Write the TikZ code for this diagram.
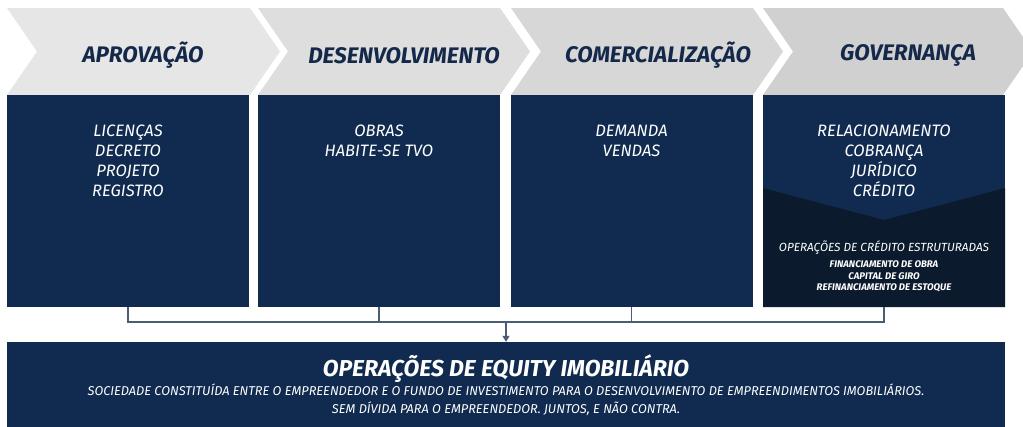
\documentclass[tikz,border=0pt]{standalone}
\usepackage{fontspec}
\setmainfont{Fira Sans}
\usepackage{tikz}
\usetikzlibrary{positioning,arrows.meta,calc}
\definecolor{NavyBox}{HTML}{102B4F}
\definecolor{NavyDark}{HTML}{0B1B2D}
\definecolor{HeadText}{HTML}{14294A}
\definecolor{LinkGray}{HTML}{4B5D75}
\definecolor{ChevA}{HTML}{E6E6E6}
\definecolor{ChevB}{HTML}{DEDEDE}
\definecolor{ChevC}{HTML}{D7D7D7}
\definecolor{ChevD}{HTML}{D0D0D0}

\tikzset{
  stagebox/.style={fill=NavyBox, minimum width=242pt, minimum height=212pt, inner sep=0pt},
  headtxt/.style={text=HeadText, font=\fontsize{22.5}{22.5}\selectfont\bfseries\itshape},
  listtxt/.style={text=white, align=center, anchor=north, inner sep=0pt,
                  font=\fontsize{16.5}{20}\selectfont\itshape},
  link/.style={draw=LinkGray, line width=1.2pt}
}
% chevron: left x, right x, fill
\newcommand{\chevshape}[3]{%
  \fill[#3] (#1,8) -- (#2,8) -- (#2+30,51.5) -- (#2,95) -- (#1,95) -- (#1+30,51.5) -- cycle;}

\begin{document}
\begin{tikzpicture}[x=1pt,y=-1pt]
  \useasboundingbox[fill=white] (0,0) rectangle (1023,426);

  % header arrows
  \chevshape{7}{250}{ChevA}
  \chevshape{258}{500}{ChevB}
  \chevshape{511}{753}{ChevC}
  \chevshape{763}{1003}{ChevD}
  \node[headtxt] (h1) at (143,55.5) {APROVAÇÃO};
  \node[headtxt] (h2) at (404,55.5) {DESENVOLVIMENTO};
  \node[headtxt] (h3) at (658,55.5) {COMERCIALIZAÇÃO};
  \node[headtxt] (h4) at (908,55.5) {GOVERNANÇA};

  % stage boxes
  \node[stagebox] (aprov) at (128,201) {};
  \node[stagebox] (desenv) at (379,201) {};
  \node[stagebox] (comerc) at (631.5,201) {};
  \node[stagebox] (govern) at (884,201) {};
  \fill[NavyDark] (763,188) -- (884,220) -- (1005,188) -- (1005,307) -- (763,307) -- cycle;

  \node[listtxt] (l1) at (128,124.5) {LICENÇAS\\DECRETO\\PROJETO\\REGISTRO};
  \node[listtxt] (l2) at (379,124.5) {OBRAS\\HABITE-SE TVO};
  \node[listtxt] (l3) at (631.5,124.5) {DEMANDA\\VENDAS};
  \node[listtxt] (l4) at (884,124.5) {RELACIONAMENTO\\COBRANÇA\\JURÍDICO\\CRÉDITO};
  \node[listtxt, font=\fontsize{11.8}{12}\selectfont\itshape] (c1) at (884,241)
       {OPERAÇÕES DE CRÉDITO ESTRUTURADAS};
  \node[listtxt, font=\fontsize{9.6}{11.5}\selectfont\bfseries\itshape] (c2) at (884,260.5)
       {FINANCIAMENTO DE OBRA\\CAPITAL DE GIRO\\REFINANCIAMENTO DE ESTOQUE};

  % equity box
  \node[fill=NavyBox, minimum width=998pt, minimum height=86pt, inner sep=0pt] (equity) at (506,385) {};
  \node[text=white, font=\fontsize{23}{23}\selectfont\bfseries\itshape] (eqt) at (506,368.5)
       {OPERAÇÕES DE EQUITY IMOBILIÁRIO};
  \node[listtxt, font=\fontsize{12.8}{18}\selectfont\itshape] (eqs) at (506,383.5)
       {SOCIEDADE CONSTITUÍDA ENTRE O EMPREENDEDOR E O FUNDO DE INVESTIMENTO PARA O DESENVOLVIMENTO DE EMPREENDIMENTOS IMOBILIÁRIOS.\\
        SEM DÍVIDA PARA O EMPREENDEDOR. JUNTOS, E NÃO CONTRA.};

  % connectors
  \coordinate (bus) at (506,322);
  \draw[link] (aprov.south) |- (govern.south |- bus) -- (govern.south);
  \draw[link] (desenv.south) -- (desenv.south |- bus);
  \draw[link] (comerc.south) -- (comerc.south |- bus);
  \draw[link, -{Triangle[width=7pt,length=6pt]}] (bus) -- (equity.north);
\end{tikzpicture}
\end{document}
